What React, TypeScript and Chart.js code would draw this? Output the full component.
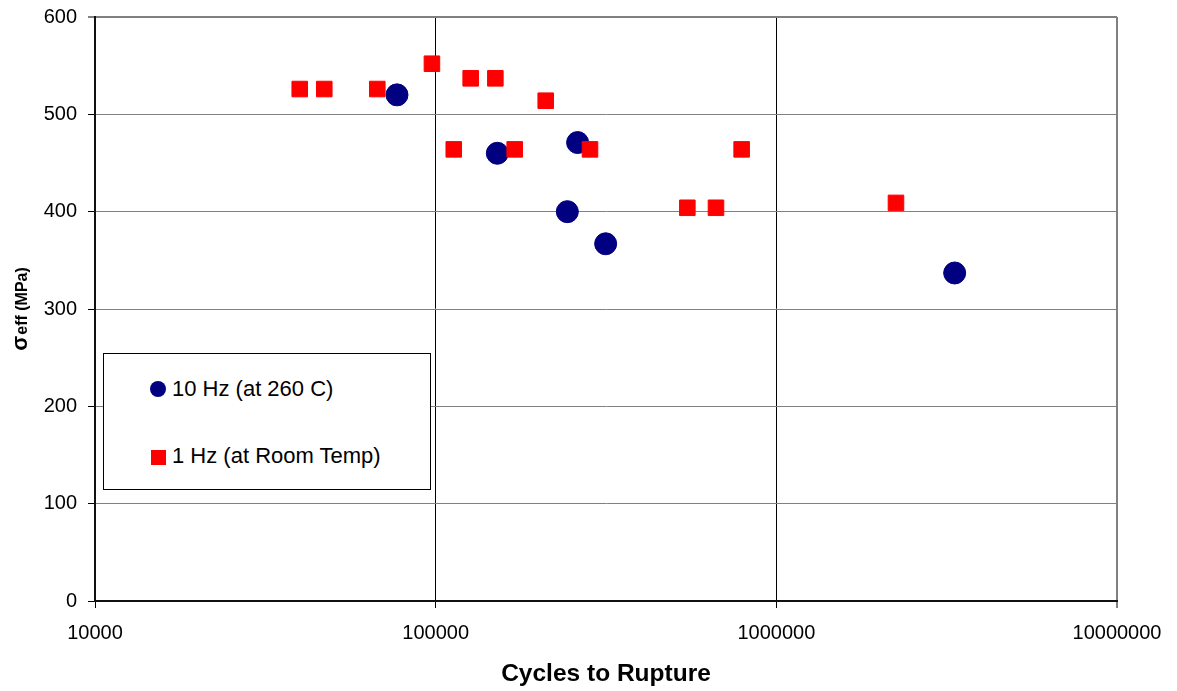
import React, { useEffect, useRef } from 'react';
import { Chart, registerables } from 'chart.js';

Chart.register(...registerables);

// ---- Data ----
const tenHzCycles = [77000, 151700, 261000, 243500, 315500, 3338000];
const tenHzStress = [520, 460, 471, 400, 367, 337];

const oneHzCycles = [39900, 47100, 67400, 97500, 113000, 126700, 149700, 170600, 210400, 283800, 548000, 665000, 791000, 2245000];
const oneHzStress = [526, 526, 526, 552, 464, 537, 537, 464, 514, 464, 404, 404, 464, 409];

const xTickValues = [10000, 100000, 1000000, 10000000];
const yTickValues = [0, 100, 200, 300, 400, 500, 600];

const xTitle = 'Cycles to Rupture';
const yTitleSymbol = 'σ';
const yTitleRest = 'eff (MPa)';
const legendLabels = ['10 Hz (at 260 C)', '1 Hz (at Room Temp)'];

const FONT = "'Liberation Sans', Arial, Helvetica, sans-serif";
const NAVY = '#000080';
const RED = '#FF0000';

const yTitlePlugin = {
  id: 'yTitleMixed',
  afterDraw(chart: any) {
    const ctx = chart.ctx as CanvasRenderingContext2D;
    const area = chart.chartArea;
    ctx.save();
    ctx.font = `bold 22px ${FONT}`;
    const w1 = ctx.measureText(yTitleSymbol).width;
    ctx.font = `bold 16px ${FONT}`;
    const w2 = ctx.measureText(yTitleRest).width;
    const total = w1 + 1 + w2;
    const cy = (area.top + area.bottom) / 2;
    ctx.translate(27, cy + total / 2);
    ctx.rotate(-Math.PI / 2);
    ctx.fillStyle = '#000';
    ctx.textBaseline = 'alphabetic';
    ctx.textAlign = 'left';
    ctx.font = `bold 22px ${FONT}`;
    ctx.fillText(yTitleSymbol, 0, 0);
    ctx.font = `bold 16px ${FONT}`;
    ctx.fillText(yTitleRest, w1 + 1, 0);
    ctx.restore();
  },
};

export default function App() {
  const canvasRef = useRef<HTMLCanvasElement | null>(null);

  useEffect(() => {
    if (!canvasRef.current) return;
    const chart = new Chart(canvasRef.current, {
      type: 'scatter',
      data: {
        datasets: [
          {
            label: legendLabels[0],
            data: tenHzCycles.map((x, i) => ({ x, y: tenHzStress[i] })),
            pointStyle: 'circle',
            pointRadius: 11,
            pointHoverRadius: 11,
            backgroundColor: NAVY,
            borderColor: NAVY,
            borderWidth: 1,
            order: 1,
          },
          {
            label: legendLabels[1],
            data: oneHzCycles.map((x, i) => ({ x, y: oneHzStress[i] })),
            pointStyle: 'rect',
            pointRadius: 11,
            pointHoverRadius: 11,
            backgroundColor: RED,
            borderColor: RED,
            borderWidth: 1,
            order: 0,
          },
        ],
      },
      options: {
        animation: false,
        responsive: false,
        maintainAspectRatio: false,
        layout: { padding: { left: 0, top: 17, right: 60, bottom: 0 } },
        plugins: {
          legend: { display: false },
          tooltip: { enabled: false },
        },
        scales: {
          x: {
            type: 'logarithmic',
            position: 'bottom',
            min: 10000,
            max: 10000000,
            afterBuildTicks: (scale: any) => {
              scale.ticks = xTickValues.map((v) => ({ value: v, major: true }));
            },
            afterFit: (scale: any) => {
              scale.height = 90;
            },
            ticks: {
              callback: (v: any) => String(v),
              color: '#000',
              font: { family: FONT, size: 20 },
              padding: 13,
              maxRotation: 0,
              autoSkip: false,
            },
            grid: {
              color: (c: any) => (c.index === 3 ? '#808080' : '#000'),
              lineWidth: (c: any) => (c.index === 3 ? 2 : 1),
              tickLength: 7,
              tickColor: '#000',
              tickWidth: 1,
            },
            border: { display: true, color: '#111', width: 2 },
            title: {
              display: true,
              text: xTitle,
              color: '#000',
              font: { family: FONT, size: 24.5, weight: 'bold' },
              padding: { top: 0, bottom: 2 },
            },
          },
          y: {
            type: 'linear',
            min: 0,
            max: 600,
            afterBuildTicks: (scale: any) => {
              scale.ticks = yTickValues.map((v) => ({ value: v }));
            },
            afterFit: (scale: any) => {
              scale.width = 95;
              scale.paddingTop = 0;
              scale.paddingBottom = 0;
            },
            ticks: {
              color: '#000',
              font: { family: FONT, size: 20 },
              padding: 11,
            },
            grid: {
              color: '#808080',
              lineWidth: (c: any) => (c.index === 6 ? 2 : 1),
              tickLength: 7,
              tickColor: '#000',
              tickWidth: 1,
            },
            border: { display: true, color: '#111', width: 2 },
          },
        },
      } as any,
      plugins: [yTitlePlugin],
    });
    return () => chart.destroy();
  }, []);

  const legendText: React.CSSProperties = {
    position: 'absolute',
    left: 171 - 103,
    height: 30,
    lineHeight: '30px',
    fontFamily: FONT,
    fontSize: 22,
    color: '#000',
    whiteSpace: 'nowrap',
  };

  return (
    <div style={{ position: 'absolute', left: 0, top: 0, width: 1177, height: 691, background: '#fff' }}>
      <canvas ref={canvasRef} width={1177} height={691} style={{ display: 'block' }} />
      <div
        style={{
          position: 'absolute',
          left: 103,
          top: 353,
          width: 326,
          height: 135,
          border: '1px solid #000',
          background: '#fff',
          boxSizing: 'content-box',
        }}
      >
        <div
          style={{
            position: 'absolute',
            left: 157 - 103 - 8,
            top: 388 - 353 - 8,
            width: 16,
            height: 16,
            borderRadius: '50%',
            background: NAVY,
          }}
        />
        <div style={{ ...legendText, top: 388 - 353 - 15 }}>{legendLabels[0]}</div>
        <div
          style={{
            position: 'absolute',
            left: 157 - 103 - 7.5,
            top: 456 - 353 - 7.5,
            width: 15,
            height: 15,
            background: RED,
          }}
        />
        <div style={{ ...legendText, top: 455 - 353 - 15 }}>{legendLabels[1]}</div>
      </div>
    </div>
  );
}
